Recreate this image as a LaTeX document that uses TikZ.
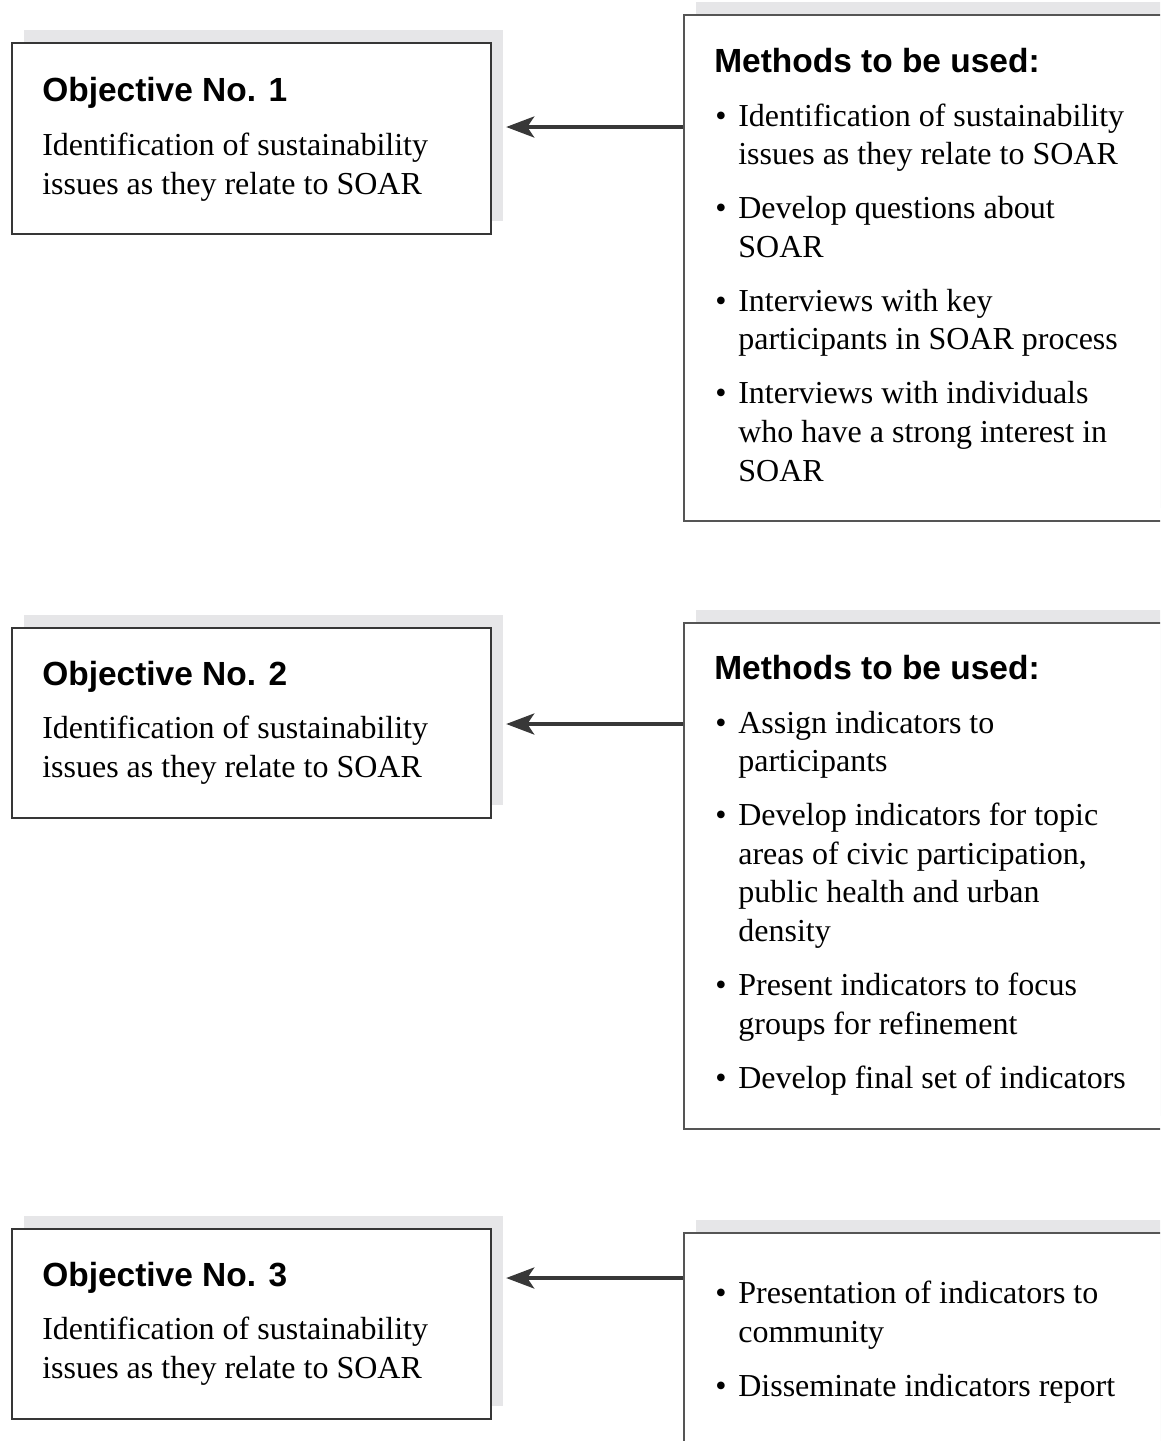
\documentclass[tikz,border=0pt]{standalone}
\usepackage{fontspec}
\setmainfont{Liberation Serif}
\setsansfont{Liberation Sans}
\usetikzlibrary{arrows.meta, fit, shadows}
\definecolor{boxdark}{HTML}{363636}
\definecolor{boxgray}{HTML}{555555}
\definecolor{shadegray}{HTML}{E6E6E8}
\definecolor{arrowgray}{HTML}{383838}
\newcommand\bul{\makebox[16.4pt][l]{\textbullet}}
\newcommand\ind{\hspace*{16.4pt}}

\begin{document}
\begin{tikzpicture}[
  x=0.025cm, y=-0.025cm,
  objbox/.style={draw=boxdark, line width=1.6pt, fill=white, inner sep=0pt,
    general shadow={fill=shadegray, shadow xshift=8.2pt, shadow yshift=9pt}},
  metbox/.style={draw=boxgray, line width=1.2pt, fill=white, inner sep=0pt,
    general shadow={fill=shadegray, shadow xshift=8.5pt, shadow yshift=9.5pt}},
  headtxt/.style={font=\sffamily\bfseries\fontsize{23.8}{28}\selectfont, anchor=base west, inner sep=0pt},
  bodytxt/.style={font=\fontsize{22.76}{27.4}\selectfont, align=left, anchor=base west, inner sep=0pt},
  link/.style={draw=arrowgray, line width=2.4pt, -{Stealth[length=20pt, width=15pt, inset=5pt]}, shorten >=10pt},
]
\useasboundingbox (0,0) rectangle (1160,1441);
\clip (0,0) rectangle (1160,1441);

% Objective boxes
\node[objbox, fit={(12,43) (491,234)}] (obj1) {};
\node[objbox, fit={(12,628) (491,818)}] (obj2) {};
\node[objbox, fit={(12,1229) (491,1419)}] (obj3) {};

% Method boxes (run off the page)
\node[metbox, fit={(684,15) (1200,521)}] (met1) {};
\node[metbox, fit={(684,623) (1200,1129)}] (met2) {};
\node[metbox, fit={(684,1233) (1200,1480)}] (met3) {};

% Objective texts (body nodes sit on their last line)
\node[headtxt] (obj1head) at (42,101) {Objective No. 1};
\node[bodytxt] (obj1text) at (42,194) {Identification of sustainability\\issues as they relate to SOAR};
\node[headtxt] (obj2head) at (42,685) {Objective No. 2};
\node[bodytxt] (obj2text) at (42,777) {Identification of sustainability\\issues as they relate to SOAR};
\node[headtxt] (obj3head) at (42,1286) {Objective No. 3};
\node[bodytxt] (obj3text) at (42,1378) {Identification of sustainability\\issues as they relate to SOAR};

% Method lists
\node[headtxt] (met1head) at (714,72) {Methods to be used:};
\node[bodytxt] (met1list) at (715,481) {%
  \bul Identification of sustainability\\
  \ind issues as they relate to SOAR\\[11pt]
  \bul Develop questions about\\
  \ind SOAR\\[11pt]
  \bul Interviews with key\\
  \ind participants in SOAR process\\[11pt]
  \bul Interviews with individuals\\
  \ind who have a strong interest in\\
  \ind SOAR};

\node[headtxt] (met2head) at (714,679) {Methods to be used:};
\node[bodytxt] (met2list) at (715,1088) {%
  \bul Assign indicators to\\
  \ind participants\\[11pt]
  \bul Develop indicators for topic\\
  \ind areas of civic participation,\\
  \ind public health and urban\\
  \ind density\\[11pt]
  \bul Present indicators to focus\\
  \ind groups for refinement\\[11pt]
  \bul Develop final set of indicators};

\node[bodytxt] (met3list) at (715,1396) {%
  \bul Presentation of indicators to\\
  \ind community\\[11pt]
  \bul Disseminate indicators report};

% Arrows from methods to objectives
\coordinate (y1) at (0,127);
\coordinate (y2) at (0,724);
\coordinate (y3) at (0,1278);
\draw[link] (met1.west |- y1) -- (obj1.east |- y1);
\draw[link] (met2.west |- y2) -- (obj2.east |- y2);
\draw[link] (met3.west |- y3) -- (obj3.east |- y3);

\end{tikzpicture}
\end{document}
